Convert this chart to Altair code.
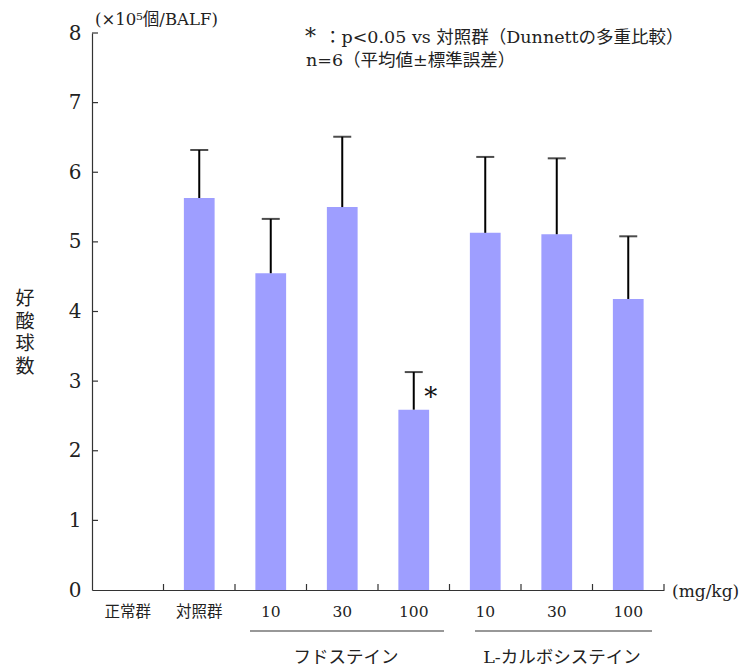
import altair as alt
import pandas as pd

# Eosinophil counts in BALF (x10^5 cells), mean and SEM per group
categories = ["正常群", "対照群", "F10", "F30", "F100", "L10", "L30", "L100"]
tick_labels = ["正常群", "対照群", "10", "30", "100", "10", "30", "100"]
means = [None, 5.63, 4.55, 5.50, 2.59, 5.13, 5.11, 4.18]
sems = [None, 0.69, 0.78, 1.01, 0.54, 1.09, 1.09, 0.90]
significant = ["F100"]
y_ticks = [1, 2, 3, 4, 5, 6, 7, 8]

FONT = "DejaVu Serif, Noto Sans CJK JP"
BAR = "#9e9eff"
INK = "#222"
AXIS = "#333"
PAD_INNER = 0.57

df = pd.DataFrame({"group": categories, "mean": means, "sem": sems})
df["upper"] = df["mean"] + df["sem"]
label_map = dict(zip(categories, tick_labels))
label_expr = "{" + ",".join(f"'{k}':'{v}'" for k, v in label_map.items()) + "}[datum.value]"

W, H = 572, 557
STEP = W / len(categories)

x_enc = alt.X("group:N", sort=categories,
              scale=alt.Scale(domain=categories, paddingInner=PAD_INNER,
                              paddingOuter=PAD_INNER / 2),
              axis=alt.Axis(title=None, labelExpr=label_expr, labelAngle=0,
                            labelFont=FONT, labelFontSize=15.5, labelColor=INK,
                            labelPadding=14, ticks=False, domainColor=AXIS,
                            domainWidth=1.2, grid=False))
y_scale = alt.Scale(domain=[0, 8], nice=False)

base = alt.Chart(df)

bars = base.mark_bar(color=BAR).encode(
    x=x_enc,
    y=alt.Y("mean:Q", scale=y_scale,
            axis=alt.Axis(title=None, values=[0] + y_ticks, format="d", ticks=False,
                          labelFont=FONT, labelFontSize=20, labelColor=INK,
                          labelPadding=11, domainColor=AXIS, domainWidth=1.2,
                          grid=False)),
)

whisker = base.mark_rule(color="black", strokeWidth=2).encode(
    x=alt.X("group:N", sort=categories), y="mean:Q", y2="upper:Q"
)
caps = base.mark_tick(color="black", size=18, thickness=2).encode(
    x=alt.X("group:N", sort=categories), y="upper:Q"
)

star = base.transform_filter(
    alt.FieldOneOfPredicate(field="group", oneOf=significant)
).mark_text(text="*", font=FONT, fontSize=26, dx=17, dy=26, color="#111").encode(
    x=alt.X("group:N", sort=categories), y="upper:Q"
)

# Inward tick marks on the y axis
ytick_df = pd.DataFrame({"v": y_ticks})
yticks = alt.Chart(ytick_df).mark_rule(color=AXIS, strokeWidth=1.2).encode(
    y=alt.Y("v:Q", scale=y_scale), x=alt.value(0), x2=alt.value(6)
)

# Inward tick marks midway between bars (right edge of each category slot)
xticks = alt.Chart(pd.DataFrame({"group": categories})).mark_rule(
    color=AXIS, strokeWidth=1.2, xOffset=STEP * PAD_INNER / 2
).encode(
    x=alt.X("group:N", sort=categories, bandPosition=1),
    y=alt.value(H - 6), y2=alt.value(H),
)

def label(text, x, y, size=15, align="left", **kw):
    return alt.Chart(pd.DataFrame({"t": [0]})).mark_text(
        text=text, font=FONT, fontSize=size, align=align, baseline="middle",
        color=INK, **kw
    ).encode(x=alt.value(x), y=alt.value(y))

notes = [
    label("(×10⁵個/BALF)", 3, -13, size=16.5),
    label(["好", "酸", "球", "数"], -67, 266, size=19, align="center", lineHeight=22.7),
    label("(mg/kg)", 580, 559, size=17),
    label("*", 213, 4, size=22),
    label("：p<0.05 vs 対照群（Dunnettの多重比較）", 232, 5, size=17.5),
    label("n=6（平均値±標準誤差）", 214, 28, size=17.5),
    label("フドステイン", 254, 625, size=17.5, align="center"),
    label("L-カルボシステイン", 470, 625, size=17.5, align="center"),
]

underlines = [
    alt.Chart(pd.DataFrame({"t": [0]})).mark_rule(color=AXIS, strokeWidth=1.2).encode(
        x=alt.value(x0), x2=alt.value(x1), y=alt.value(598)
    )
    for x0, x1 in [(158, 352), (383, 560)]
]

chart = alt.layer(bars, whisker, caps, star, yticks, xticks, *underlines, *notes).properties(
    width=W, height=H,
    background="white",
    autosize=alt.AutoSizeParams(type="none"),
    padding={"left": 92, "top": 33, "right": 81, "bottom": 79},
).configure_view(stroke=None, strokeWidth=0)

chart.save("out.html", embed_options={"renderer": "svg", "actions": False})
